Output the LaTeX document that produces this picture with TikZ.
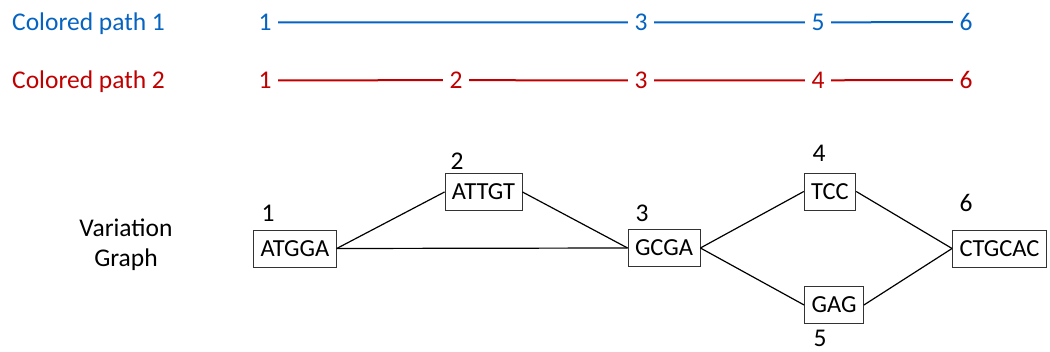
\documentclass[tikz,border=0pt]{standalone}
\usepackage{fontspec}
\setmainfont{Carlito}
\definecolor{pblue}{HTML}{0563C1}
\definecolor{pred}{HTML}{C00000}
\tikzset{
  lbl/.style={font=\fontsize{25.5}{30}\selectfont, anchor=base west, inner sep=0pt},
  num/.style={font=\fontsize{25.5}{30}\selectfont, anchor=base, inner xsep=6.5pt, inner ysep=0pt},
  pathline/.style={line width=2pt},
  seq/.style={draw=black!80, line width=0.9pt, font=\fontsize{24.5}{30}\selectfont, text height=15.8pt, text depth=0pt, minimum height=37pt, inner xsep=7pt, inner ysep=0pt},
  gnum/.style={font=\fontsize{25.5}{30}\selectfont, anchor=base, inner sep=0pt},
  edge/.style={line width=1.2pt, black}
}
\begin{document}
\begin{tikzpicture}[x=1pt,y=-1pt]
\useasboundingbox (0,0) rectangle (1050,352);
% colored path 1
\node[lbl, text=pblue] (l1) at (12,31) {Colored path 1};
\begin{scope}[every node/.style={num, text=pblue}]
\node (a1) at (265,30.5) {1};
\node (a3) at (641,30.5) {3};
\node (a5) at (818,30.5) {5};
\node (a6) at (966,30.5) {6};
\end{scope}
\draw[pathline, pblue] (a1) -- (a3) (a3) -- (a5) (a5) -- (a6);
% colored path 2
\node[lbl, text=pred] (l2) at (12,88.5) {Colored path 2};
\begin{scope}[every node/.style={num, text=pred}]
\node (b1) at (265,88.5) {1};
\node (b2) at (456,88.5) {2};
\node (b3) at (641,88.5) {3};
\node (b4) at (818,88.5) {4};
\node (b6) at (966,88.5) {6};
\end{scope}
\draw[pathline, pred] (b1) -- (b2) (b2) -- (b3) (b3) -- (b4) (b4) -- (b6);
% variation graph
\node[gnum] (vg1) at (126,237) {Variation};
\node[gnum] (vg2) at (126,267) {Graph};
\node[seq] (n1) at (295,248.5) {ATGGA};
\node[seq] (n2) at (483.5,192) {ATTGT};
\node[seq] (n3) at (664,248) {GCGA};
\node[seq] (n4) at (830,191.5) {TCC};
\node[seq] (n5) at (834,305) {GAG};
\node[seq] (n6) at (999.5,248.5) {CTGCAC};
\node[gnum] (g1) at (268,222) {1};
\node[gnum] (g2) at (457,170) {2};
\node[gnum] (g3) at (642,222) {3};
\node[gnum] (g4) at (819,162) {4};
\node[gnum] (g5) at (820,346.5) {5};
\node[gnum] (g6) at (966,212) {6};
\draw[edge] (n1.east) -- (n2.west);
\draw[edge] (n1.east) -- (n3.west);
\draw[edge] (n2.east) -- (n3.west);
\draw[edge] (n3.east) -- (n4.west);
\draw[edge] (n3.east) -- (n5.west);
\draw[edge] (n4.east) -- (n6.west);
\draw[edge] (n5.east) -- (n6.west);
\end{tikzpicture}
\end{document}
